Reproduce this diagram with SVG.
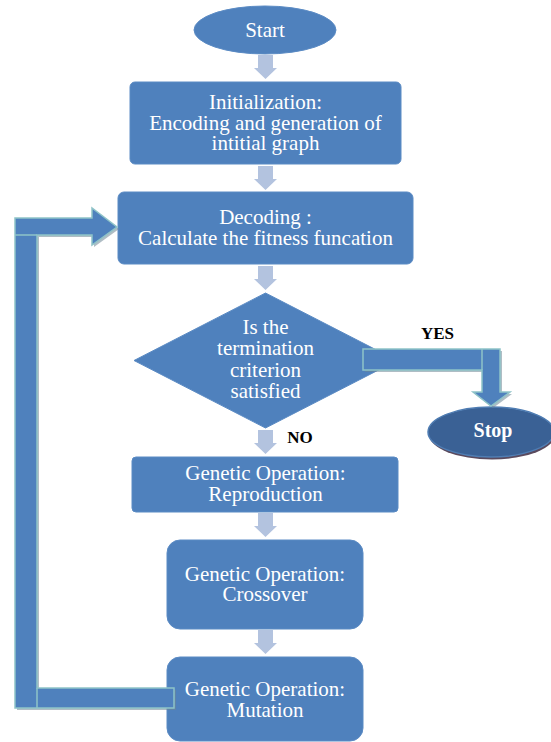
<svg xmlns="http://www.w3.org/2000/svg" width="551" height="742" viewBox="0 0 551 742">
<defs>
<style>
.box{fill:#4F81BD;stroke:#5B8BC4;stroke-width:1}
.t{font-family:"Liberation Serif","Times New Roman",serif;font-size:21px;fill:#FFFFFF;text-anchor:middle}
.lbl{font-family:"Liberation Serif","Times New Roman",serif;font-size:17px;font-weight:bold;fill:#000000;text-anchor:middle}
.flow{fill:#B3C3DF}
.big{fill:#4F81BD;stroke:#8EC3C8;stroke-width:1.5;stroke-linejoin:miter}
.shadow{fill:#6E8796;opacity:0.55}
.seam{stroke:#8EC3C8;stroke-width:1.5;fill:none}
</style>
<path id="down" d="M-7.5,0 h15 v13 h4 l-11.5,11 l-11.5,-11 h4 z"/>
</defs>
<rect width="551" height="742" fill="#FFFFFF"/>

<g id="start">
<ellipse cx="265" cy="30" rx="71" ry="24" class="box"/>
<text class="t" x="265" y="37">Start</text>
</g>

<g id="init">
<rect x="130" y="82" width="271" height="82" rx="5" class="box"/>
<text class="t" x="265.5" y="109">Initialization:</text>
<text class="t" x="265.5" y="129.5">Encoding and generation of</text>
<text class="t" x="265.5" y="150">intitial graph</text>
</g>

<g id="decoding">
<rect x="118" y="192" width="295" height="72" rx="6" class="box"/>
<text class="t" x="265.5" y="224">Decoding :</text>
<text class="t" x="265.5" y="245">Calculate the fitness funcation</text>
</g>

<g id="decision">
<polygon points="265.5,293 397,360.5 265.5,428 134,360.5" class="box"/>
<text class="t" x="265.5" y="334">Is the</text>
<text class="t" x="265.5" y="355">termination</text>
<text class="t" x="265.5" y="376.5">criterion</text>
<text class="t" x="265.5" y="398">satisfied</text>
</g>

<g id="stop">
<ellipse cx="492" cy="434.5" rx="63" ry="25" fill="#5A4A5E"/>
<ellipse cx="491" cy="432" rx="63" ry="25" fill="#3A6195" stroke="#4F7DB3" stroke-width="1.5"/>
<text class="t" x="493" y="437" style="font-weight:bold;font-size:20px">Stop</text>
</g>

<g id="reproduction">
<rect x="132" y="457" width="266" height="55" rx="4" class="box"/>
<text class="t" x="265.5" y="480">Genetic Operation:</text>
<text class="t" x="265.5" y="500.5">Reproduction</text>
</g>

<g id="crossover">
<rect x="167" y="540" width="196" height="89" rx="13" class="box"/>
<text class="t" x="265" y="580.5">Genetic Operation:</text>
<text class="t" x="265" y="601">Crossover</text>
</g>

<g id="mutation">
<rect x="167" y="657" width="196" height="84" rx="13" class="box"/>
<text class="t" x="265" y="696">Genetic Operation:</text>
<text class="t" x="265" y="716.5">Mutation</text>
</g>

<g id="connectors">
<use href="#down" x="265.5" y="55" class="flow"/>
<use href="#down" x="265.5" y="166" class="flow"/>
<use href="#down" x="265.5" y="266" class="flow"/>
<use href="#down" x="265.5" y="430" class="flow"/>
<use href="#down" x="265.5" y="513" class="flow"/>
<use href="#down" x="265.5" y="630" class="flow"/>

<polygon class="shadow" points="17,220 94,220 94,210 119,229 94,247 94,237 39,237 39,690 176,690 176,710 17,710"/>
<polygon class="big" points="15,218 92,218 92,208 117,227 92,245 92,235 37,235 37,688 174,688 174,708 15,708"/>
<path class="seam" d="M15,235 H37 M37,688 V708"/>

<polygon class="shadow" points="365,351 502,351 502,394 512,394 493,408 475,394 484,394 484,372 365,372"/>
<polygon class="big" points="363,349 500,349 500,392 510,392 491,406 473,392 482,392 482,370 363,370"/>
<path class="seam" d="M482,349 V370"/>

<text class="lbl" x="437.5" y="339">YES</text>
<text class="lbl" x="300" y="443">NO</text>
</g>
</svg>
